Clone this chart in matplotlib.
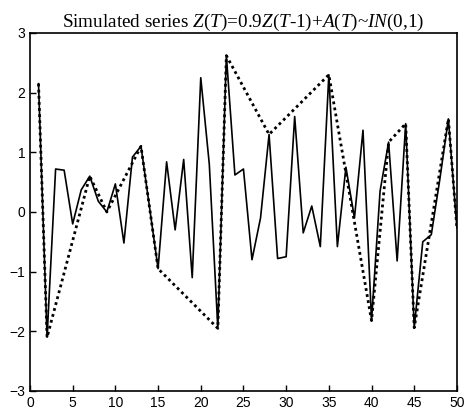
import matplotlib.pyplot as plt

plt.rcParams['font.family'] = 'Liberation Sans'
plt.rcParams['mathtext.fontset'] = 'custom'
plt.rcParams['mathtext.rm'] = 'Liberation Serif'
plt.rcParams['mathtext.it'] = 'Liberation Serif:italic'

# simulated series
t = list(range(1, 51))
z = [2.15, -2.1, 0.72, 0.70, -0.2, 0.37, 0.6, 0.18, 0.0, 0.47,
     -0.52, 0.92, 1.1, 0.08, -0.95, 0.84, -0.3, 0.88, -1.1, 2.25,
     0.8, -1.95, 2.62, 0.62, 0.72, -0.8, -0.1, 1.3, -0.78, -0.75,
     1.6, -0.35, 0.1, -0.58, 2.3, -0.58, 0.75, -0.1, 1.37, -1.82,
     0.35, 1.17, -0.82, 1.48, -1.94, -0.5, -0.38, 0.55, 1.56, -0.27]

# turning points joined by the dotted line
tp_t = [1, 2, 7, 9, 13, 15, 22, 23, 28, 35, 40, 42, 44, 45, 49, 50]
tp_z = [z[i - 1] for i in tp_t]

fig = plt.figure(figsize=(4.73, 4.12), dpi=100)
ax = fig.add_axes([0.0634, 0.051, 0.9026, 0.869])

ax.plot(t, z, color='black', lw=1.2)
ax.plot(tp_t, tp_z, color='black', lw=2.0, ls=(0, (1, 1.2)))

ax.set_xlim(0, 50)
ax.set_ylim(-3, 3)
ax.set_xticks(range(0, 51, 5))
ax.set_yticks(range(-3, 4))
ax.tick_params(direction='in', length=4, labelsize=10, width=1)
for s in ax.spines.values():
    s.set_linewidth(1.2)

ax.set_title(r'Simulated series $Z(T)$=0.9$Z(T$-1)+$A(T)$~$IN$(0,1)',
             fontfamily='Liberation Serif', fontsize=13.8, pad=4)

fig.savefig('out.png', dpi=100)
